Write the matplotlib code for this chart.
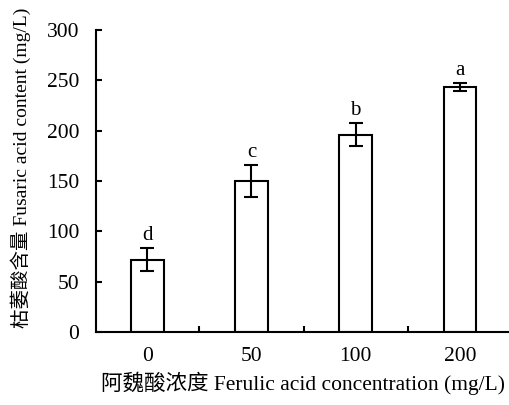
import matplotlib
matplotlib.use("Agg")
import matplotlib.pyplot as plt

categories = ["0", "50", "100", "200"]
values = [72, 150, 196, 243]
errors = [11, 15.5, 11.5, 4]
letters = ["d", "c", "b", "a"]
yticks = [0, 50, 100, 150, 200, 250, 300]

fam = ["Liberation Serif", "Noto Sans CJK SC"]
plt.rcParams["font.family"] = fam

fig = plt.figure(figsize=(5.1, 4.05), dpi=100)
ax = fig.add_axes([96/510, 73/405, 414/510, 302/405])

x = list(range(len(categories)))
ax.bar(x, values, width=0.315, color="white", edgecolor="black", linewidth=1.5, zorder=2)
ax.errorbar(x, values, yerr=errors, fmt="none", ecolor="black", elinewidth=1.5,
            capsize=4.7, capthick=1.5, zorder=3)
for xi, v, e, l in zip(x, values, errors, letters):
    ax.annotate(l, (xi, v + e), xytext=(0, 2.5), textcoords="offset points",
                ha="center", va="bottom", fontsize=15)

ax.set_xlim(-0.49, 3.48)
ax.set_ylim(0, 300)
ax.set_yticks(yticks)
ax.set_xticks(x)
ax.set_xticklabels(categories)
ax.set_xticks([0.5, 1.5, 2.5], minor=True)
ax.tick_params(axis="x", which="major", length=0, pad=11, labelsize=15.5)
ax.tick_params(axis="x", which="minor", direction="in", length=4, width=1.5)
ax.tick_params(axis="y", direction="in", length=4, width=1.5, pad=12, labelsize=15.5)
for s in ["top", "right"]:
    ax.spines[s].set_visible(False)
for s in ["left", "bottom"]:
    ax.spines[s].set_linewidth(1.5)

ax.set_xlabel("阿魏酸浓度 Ferulic acid concentration (mg/L)", fontsize=15.5)
ax.set_ylabel("枯萎酸含量 Fusaric acid content (mg/L)", fontsize=14)
ax.xaxis.set_label_coords(0.5, -0.13)
ax.yaxis.set_label_coords(-0.158, 0.543)

fig.savefig("out.png", dpi=100)
